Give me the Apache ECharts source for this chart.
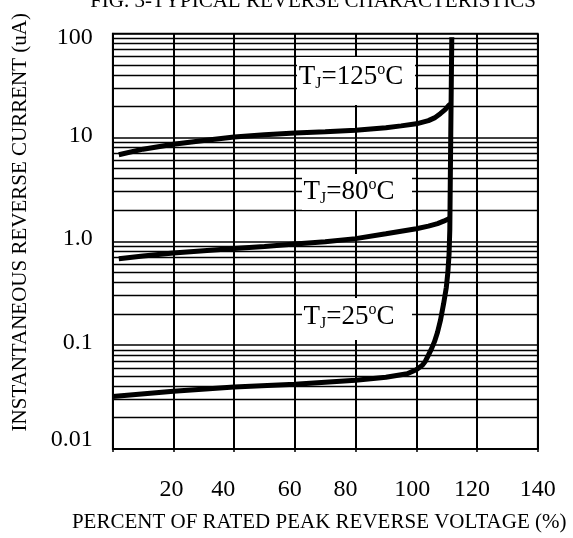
<!DOCTYPE html>
<html><head><meta charset="utf-8">
<script src="https://cdn.jsdelivr.net/npm/echarts@6/dist/echarts.min.js"></script>
<style>html,body{margin:0;padding:0;background:#fff}#c{width:573px;height:538px}</style>
</head><body><div id="c"></div>
<script>
// ---- data ----
const xTickValues = [0, 20, 40, 60, 80, 100, 120, 140];
const xTickLabels = ['', '20', '40', '60', '80', '100', '120', '140'];
const yTickValues = [0.01, 0.1, 1, 10, 100];
const yTickLabels = ['0.01', '0.1', '1.0', '10', '100'];
const tempLabels = ['125', '80', '25'];

const t125X = [2, 10, 20, 30, 40, 50, 60, 70, 80, 90, 95, 100, 104, 106, 108, 109.5, 110.5, 111.2];
const t125Y = [6.8, 7.7, 8.6, 9.35, 10.1, 10.6, 11.0, 11.3, 11.7, 12.4, 12.9, 13.5, 14.5, 15.4, 17, 18.5, 20, 21];

const t80X = [2, 10, 20, 30, 40, 50, 60, 70, 80, 90, 95, 100, 104, 107, 109, 110.9];
const t80Y = [0.68, 0.72, 0.77, 0.81, 0.85, 0.89, 0.94, 0.99, 1.06, 1.18, 1.25, 1.32, 1.40, 1.48, 1.56, 1.66];

const t25X = [0, 20, 40, 60, 80, 90, 97, 100, 101, 102, 103, 104, 105, 106, 107, 108, 109, 109.9, 110.4, 110.8, 111.05, 111.35, 111.7];
const t25Y = [0.032, 0.036, 0.0395, 0.042, 0.046, 0.049, 0.053, 0.058, 0.061, 0.064, 0.070, 0.080, 0.092, 0.108, 0.133, 0.175, 0.25, 0.36, 0.5, 0.75, 1.3, 10, 92];

// ---- helpers ----
const FONT = "'Liberation Serif','Times New Roman',serif";
const zip = (xs, ys) => xs.map((x, i) => [x, ys[i]]);
const minorVals = [];
for (let i = 0; i < yTickValues.length - 1; i++) {
  for (let k = 2; k <= 9; k++) minorVals.push(Number((k * yTickValues[i]).toPrecision(4)));
}
const yMin = yTickValues[0], yMax = yTickValues[yTickValues.length - 1];
const xShift = {20: 2, 40: 11, 60: 5, 80: 10, 100: 4, 120: 5, 140: 0};
const yShift = ['up9', 'up2', 'up3', 'up2', 'dn4'];
const xRich = {};
xTickValues.forEach(v => { xRich['x' + v] = {fontSize: 24, fontFamily: FONT, color: '#000', padding: [0, 2 * (xShift[v] || 0), 0, 0]}; });
const yRich = {
  up9: {fontSize: 24, fontFamily: FONT, color: '#000', padding: [0, 0, 18, 0]},
  up2: {fontSize: 24, fontFamily: FONT, color: '#000', padding: [0, 0, 4, 0]},
  up3: {fontSize: 24, fontFamily: FONT, color: '#000', padding: [0, 0, 6, 0]},
  dn4: {fontSize: 24, fontFamily: FONT, color: '#000', padding: [8, 0, 0, 0]}
};
function yIndex(v) {
  for (let i = 0; i < yTickValues.length; i++) {
    if (Math.abs(Math.log10(v) - Math.log10(yTickValues[i])) < 1e-6) return i;
  }
  return -1;
}
const labRich = {
  t: {fontSize: 27, fontFamily: FONT, fill: '#000', lineHeight: 30},
  s: {fontSize: 16, fontFamily: FONT, fill: '#000', lineHeight: 14, verticalAlign: 'bottom'},
  o: {fontSize: 16, fontFamily: FONT, fill: '#000', lineHeight: 22, verticalAlign: 'top'}
};
function tjText(t) { return '{t|T}{s|J}{t|=' + t + '}{o|o}{t|C}'; }
const boxes = [
  {x: 297, y: 57, w: 118, h: 48, cx: 351, cy: 77},
  {x: 302, y: 174, w: 110, h: 36, cx: 349, cy: 192},
  {x: 302, y: 298, w: 110, h: 42, cx: 349, cy: 317}
];
const graphic = [];
boxes.forEach((b, i) => {
  graphic.push({type: 'rect', shape: {x: b.x, y: b.y, width: b.w, height: b.h}, style: {fill: '#fff'}, z: 50, silent: true});
  graphic.push({type: 'text', x: b.cx, y: b.cy, style: {text: tjText(tempLabels[i]), rich: labRich, align: 'center', verticalAlign: 'middle'}, z: 51, silent: true});
});
graphic.push({type: 'text', x: 313, y: 1, style: {text: 'FIG. 3-TYPICAL REVERSE CHARACTERISTICS', fontSize: 21, fontFamily: FONT, fill: '#000', align: 'center', verticalAlign: 'middle'}, z: 51, silent: true});

const lineStyleCurve = {color: '#000', width: 5};
const chart = echarts.init(document.getElementById('c'));
chart.setOption({
  animation: false,
  backgroundColor: '#fff',
  grid: {left: 112.7, right: 35.3, top: 33.5, bottom: 89, show: true, borderColor: '#000', borderWidth: 1.6, backgroundColor: 'transparent', containLabel: false, outerBoundsMode: 'none'},
  xAxis: {
    type: 'value', min: 0, max: 140, interval: 20,
    name: 'PERCENT OF RATED PEAK REVERSE VOLTAGE (%)', nameLocation: 'middle', nameGap: 63,
    nameTextStyle: {fontSize: 21, fontFamily: FONT, color: '#000', padding: [0, 12, 0, 0]},
    axisLine: {show: true, lineStyle: {color: '#000', width: 1.6}},
    axisTick: {show: true, length: 3, lineStyle: {color: '#000', width: 1.5}},
    splitLine: {show: true, lineStyle: {color: '#000', width: 2}},
    axisLabel: {
      margin: 29, showMinLabel: true, showMaxLabel: true,
      formatter: v => { const i = xTickValues.indexOf(v); const s = i >= 0 ? xTickLabels[i] : ''; return s ? '{x' + v + '|' + s + '}' : ''; },
      rich: xRich
    }
  },
  yAxis: {
    type: 'log', logBase: 10, min: yMin, max: yMax,
    name: 'INSTANTANEOUS REVERSE CURRENT (uA)', nameLocation: 'middle', nameGap: 82,
    nameTextStyle: {fontSize: 21, fontFamily: FONT, color: '#000', padding: [0, 0, 0, 38]},
    axisLine: {show: true, lineStyle: {color: '#000', width: 1.6}},
    axisTick: {show: false},
    splitLine: {show: true, lineStyle: {color: '#000', width: 1.5}},
    minorSplitLine: {show: false},
    axisLabel: {
      margin: 20, showMinLabel: true, showMaxLabel: true,
      formatter: v => { const i = yIndex(v); return i >= 0 ? '{' + yShift[i] + '|' + yTickLabels[i] + '}' : ''; },
      rich: yRich
    }
  },
  graphic: graphic,
  series: [
    {
      type: 'line', name: 'grid', data: [], z: 1, silent: true, symbol: 'none',
      markLine: {
        silent: true, symbol: ['none', 'none'], label: {show: false}, animation: false,
        emphasis: {disabled: true},
        lineStyle: {color: '#000', width: 1.3, type: 'solid'},
        data: minorVals.map(v => ({yAxis: v}))
      }
    },
    {type: 'line', name: 'TJ=125C', data: zip(t125X, t125Y), symbol: 'none', smooth: false, lineStyle: lineStyleCurve, z: 5, silent: true},
    {type: 'line', name: 'TJ=80C', data: zip(t80X, t80Y), symbol: 'none', smooth: false, lineStyle: lineStyleCurve, z: 5, silent: true},
    {type: 'line', name: 'TJ=25C', data: zip(t25X, t25Y), symbol: 'none', smooth: false, lineStyle: lineStyleCurve, z: 5, silent: true}
  ]
});
</script></body></html>
